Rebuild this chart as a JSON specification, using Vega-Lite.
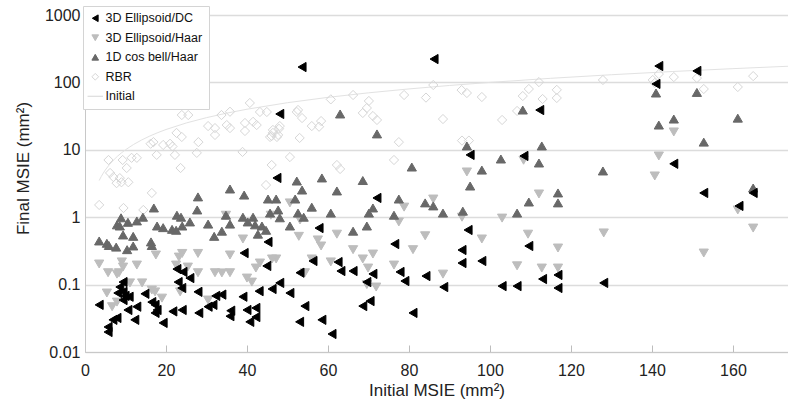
{
  "$schema": "https://vega.github.io/schema/vega-lite/v6.json",
  "width": 703,
  "height": 337,
  "autosize": {"type": "none"},
  "padding": {"left": 85, "top": 15, "right": 0, "bottom": 53},
  "config": {
    "view": {"stroke": null},
    "font": "Liberation Sans",
    "legend": {
      "orient": "none", "legendX": -2, "legendY": -9,
      "fillColor": "white", "strokeColor": "#d4d4d4", "padding": 6,
      "labelFontSize": 12.5, "labelFont": "Liberation Sans", "labelColor": "#111",
      "rowPadding": 6.5, "symbolStrokeWidth": 1, "symbolSize": 45,
      "labelLimit": 250, "labelOffset": 4, "cornerRadius": 0
    }
  },
  "datasets": {
    "initial": [
      {"x": 3.5, "y": 3.5}, {"x": 4, "y": 4}, {"x": 4.5, "y": 4.5}, {"x": 5, "y": 5}, {"x": 6, "y": 6},
      {"x": 7, "y": 7}, {"x": 8, "y": 8}, {"x": 9, "y": 9}, {"x": 10, "y": 10}, {"x": 12, "y": 12},
      {"x": 14, "y": 14}, {"x": 16, "y": 16}, {"x": 18, "y": 18}, {"x": 20, "y": 20}, {"x": 25, "y": 25},
      {"x": 30, "y": 30}, {"x": 35, "y": 35}, {"x": 40, "y": 40}, {"x": 50, "y": 50}, {"x": 60, "y": 60},
      {"x": 70, "y": 70}, {"x": 80, "y": 80}, {"x": 90, "y": 90}, {"x": 100, "y": 100}, {"x": 115, "y": 115},
      {"x": 130, "y": 130}, {"x": 145, "y": 145}, {"x": 160, "y": 160}, {"x": 173.6, "y": 173.6}
    ],
    "pts": [
      {"s":"RBR","x":30.4,"y":22.5},{"s":"RBR","x":32.1,"y":21},{"s":"RBR","x":35,"y":23.3},{"s":"RBR","x":35.8,"y":21},
      {"s":"RBR","x":39.5,"y":25},{"s":"RBR","x":39.5,"y":19},{"s":"RBR","x":42.4,"y":23.3},{"s":"RBR","x":32.1,"y":16.6},
      {"s":"RBR","x":46.1,"y":16},{"s":"RBR","x":47.7,"y":16.6},{"s":"RBR","x":22.6,"y":17.8},{"s":"RBR","x":23.9,"y":15.5},
      {"s":"RBR","x":16.9,"y":13},{"s":"RBR","x":16.2,"y":12.3},{"s":"RBR","x":19.3,"y":11.8},{"s":"RBR","x":21,"y":12.3},
      {"s":"RBR","x":21.6,"y":11.2},{"s":"RBR","x":28,"y":13},{"s":"RBR","x":17.7,"y":8.4},{"s":"RBR","x":22.2,"y":8.4},
      {"s":"RBR","x":27.6,"y":9},{"s":"RBR","x":38.9,"y":9.3},{"s":"RBR","x":5.8,"y":7.06},{"s":"RBR","x":9.3,"y":7.06},
      {"s":"RBR","x":11.5,"y":7.6},{"s":"RBR","x":12.8,"y":7.6},{"s":"RBR","x":10.3,"y":5.37},{"s":"RBR","x":6.2,"y":4.53},
      {"s":"RBR","x":7,"y":3.95},{"s":"RBR","x":8.6,"y":3.8},{"s":"RBR","x":7.8,"y":3.2},{"s":"RBR","x":9,"y":3.3},
      {"s":"RBR","x":10.7,"y":3.3},{"s":"RBR","x":23.6,"y":5.37},{"s":"RBR","x":46.1,"y":5.95},{"s":"RBR","x":16.5,"y":2.29},
      {"s":"RBR","x":44.7,"y":3.0},{"s":"RBR","x":3.5,"y":1.52},{"s":"RBR","x":9.5,"y":1.37},{"s":"RBR","x":14.4,"y":1.28},
      {"s":"RBR","x":50.6,"y":7.8},{"s":"RBR","x":52.6,"y":39},{"s":"RBR","x":53.6,"y":29.6},{"s":"RBR","x":53,"y":15},
      {"s":"RBR","x":86,"y":91.5},{"s":"RBR","x":93,"y":77},{"s":"RBR","x":94.3,"y":69.6},{"s":"RBR","x":98,"y":60.7},
      {"s":"RBR","x":84.2,"y":59.5},{"s":"RBR","x":78.8,"y":65},{"s":"RBR","x":66.2,"y":65},{"s":"RBR","x":70.1,"y":53},
      {"s":"RBR","x":60.7,"y":56},{"s":"RBR","x":69.6,"y":41.7},{"s":"RBR","x":68.6,"y":35.2},{"s":"RBR","x":71.1,"y":31.7},
      {"s":"RBR","x":72.1,"y":27.7},{"s":"RBR","x":52.3,"y":36.4},{"s":"RBR","x":44.9,"y":36.4},{"s":"RBR","x":43.2,"y":36.4},
      {"s":"RBR","x":56,"y":22.5},{"s":"RBR","x":58.3,"y":26.7},{"s":"RBR","x":57.8,"y":22},{"s":"RBR","x":46.4,"y":19.7},
      {"s":"RBR","x":47.9,"y":20.5},{"s":"RBR","x":45.7,"y":15.5},{"s":"RBR","x":47.4,"y":15.5},{"s":"RBR","x":88.4,"y":28.6},
      {"s":"RBR","x":77.5,"y":13},{"s":"RBR","x":93.1,"y":13.7},{"s":"RBR","x":94.8,"y":13.7},{"s":"RBR","x":103,"y":27.7},
      {"s":"RBR","x":76.3,"y":7.06},{"s":"RBR","x":62.2,"y":5.95},{"s":"RBR","x":63,"y":5.19},{"s":"RBR","x":108.1,"y":62.8},
      {"s":"RBR","x":109.6,"y":79.8},{"s":"RBR","x":112.1,"y":101},{"s":"RBR","x":113,"y":56.7},{"s":"RBR","x":116.5,"y":77.5},
      {"s":"RBR","x":116.5,"y":58.7},{"s":"RBR","x":106.7,"y":37.7},{"s":"RBR","x":127.9,"y":108.6},{"s":"RBR","x":140.2,"y":108.6},
      {"s":"RBR","x":141.7,"y":133},{"s":"RBR","x":145.4,"y":120},{"s":"RBR","x":151.1,"y":116},{"s":"RBR","x":152.8,"y":79.8},
      {"s":"RBR","x":161.2,"y":85.5},{"s":"RBR","x":165,"y":124},{"s":"RBR","x":140.7,"y":98},{"s":"RBR","x":23.9,"y":32.8},
      {"s":"RBR","x":25.5,"y":32.8},{"s":"RBR","x":33.7,"y":32.8},{"s":"RBR","x":35.8,"y":36.7},{"s":"RBR","x":40.7,"y":49.5},
      {"s":"RBR","x":41.5,"y":26},{"s":"RBR","x":48.1,"y":22.5},{"s":"RBR","x":46.4,"y":17.8},

      {"s":"EH","x":50.6,"y":1.63},{"s":"EH","x":53.1,"y":0.91},{"s":"EH","x":45.9,"y":1.07},{"s":"EH","x":34.8,"y":1.07},
      {"s":"EH","x":39,"y":0.475},{"s":"EH","x":52.8,"y":0.52},{"s":"EH","x":57.5,"y":0.46},{"s":"EH","x":47.2,"y":0.24},
      {"s":"EH","x":46.2,"y":0.24},{"s":"EH","x":43.2,"y":0.209},{"s":"EH","x":42.2,"y":0.176},{"s":"EH","x":40,"y":0.125},
      {"s":"EH","x":41.2,"y":0.109},{"s":"EH","x":35.8,"y":0.15},{"s":"EH","x":33.8,"y":0.149},{"s":"EH","x":32.1,"y":0.15},
      {"s":"EH","x":27.9,"y":0.15},{"s":"EH","x":25.4,"y":0.182},{"s":"EH","x":23.2,"y":0.256},{"s":"EH","x":24,"y":0.29},
      {"s":"EH","x":22.5,"y":0.195},{"s":"EH","x":27.9,"y":0.29},{"s":"EH","x":35.8,"y":0.275},{"s":"EH","x":17.5,"y":0.275},
      {"s":"EH","x":12.8,"y":0.195},{"s":"EH","x":9.1,"y":0.217},{"s":"EH","x":9.4,"y":0.182},{"s":"EH","x":8.4,"y":0.15},
      {"s":"EH","x":3.5,"y":0.202},{"s":"EH","x":5.7,"y":0.15},{"s":"EH","x":7.9,"y":0.143},{"s":"EH","x":14.1,"y":0.106},
      {"s":"EH","x":11.1,"y":0.106},{"s":"EH","x":16.5,"y":0.083},{"s":"EH","x":17.3,"y":0.078},{"s":"EH","x":19,"y":0.063},
      {"s":"EH","x":5.4,"y":0.075},{"s":"EH","x":6.7,"y":0.047},{"s":"EH","x":7.9,"y":0.055},{"s":"EH","x":23.5,"y":0.078},
      {"s":"EH","x":30.4,"y":0.059},{"s":"EH","x":86,"y":1.86},{"s":"EH","x":78.8,"y":1.41},{"s":"EH","x":93.1,"y":1.0},
      {"s":"EH","x":77.5,"y":0.85},{"s":"EH","x":62.2,"y":0.56},{"s":"EH","x":58.3,"y":0.374},{"s":"EH","x":84,"y":0.53},
      {"s":"EH","x":81,"y":0.33},{"s":"EH","x":66.2,"y":0.33},{"s":"EH","x":71.1,"y":0.284},{"s":"EH","x":68.6,"y":0.24},
      {"s":"EH","x":76.3,"y":0.195},{"s":"EH","x":69.9,"y":0.176},{"s":"EH","x":60.7,"y":0.217},{"s":"EH","x":56,"y":0.24},
      {"s":"EH","x":54.3,"y":0.15},{"s":"EH","x":69.6,"y":0.1},{"s":"EH","x":71.9,"y":0.092},{"s":"EH","x":88.4,"y":0.143},
      {"s":"EH","x":98,"y":0.475},{"s":"EH","x":103,"y":0.97},{"s":"EH","x":109.4,"y":0.56},{"s":"EH","x":106.7,"y":0.19},
      {"s":"EH","x":112.8,"y":0.176},{"s":"EH","x":112.1,"y":2.21},{"s":"EH","x":108.3,"y":7.0},{"s":"EH","x":94.3,"y":4.69},
      {"s":"EH","x":141.7,"y":8.1},{"s":"EH","x":140.7,"y":4.09},{"s":"EH","x":145.4,"y":18.4},{"s":"EH","x":128.1,"y":0.584},
      {"s":"EH","x":116.8,"y":0.349},{"s":"EH","x":116.8,"y":0.176},{"s":"EH","x":152.8,"y":0.294},{"s":"EH","x":165,"y":0.69},
      {"s":"EH","x":161.2,"y":1.28},

      {"s":"CB","x":35.8,"y":2.62},{"s":"CB","x":39.3,"y":2.13},{"s":"CB","x":27.9,"y":2.0},{"s":"CB","x":52.3,"y":3.44},
      {"s":"CB","x":45.2,"y":1.86},{"s":"CB","x":47.2,"y":1.86},{"s":"CB","x":53.6,"y":2.53},{"s":"CB","x":51.9,"y":1.86},
      {"s":"CB","x":17,"y":1.37},{"s":"CB","x":27.7,"y":1.28},{"s":"CB","x":14.3,"y":1.0},{"s":"CB","x":8.9,"y":0.98},
      {"s":"CB","x":12.8,"y":0.88},{"s":"CB","x":10.6,"y":0.84},{"s":"CB","x":7.9,"y":0.77},{"s":"CB","x":8.6,"y":0.74},
      {"s":"CB","x":9.4,"y":0.545},{"s":"CB","x":11.9,"y":0.52},{"s":"CB","x":11.9,"y":0.374},{"s":"CB","x":3.5,"y":0.444},
      {"s":"CB","x":5.4,"y":0.41},{"s":"CB","x":5.9,"y":0.38},{"s":"CB","x":7.7,"y":0.36},{"s":"CB","x":10.4,"y":0.33},
      {"s":"CB","x":16.3,"y":0.43},{"s":"CB","x":16.5,"y":0.38},{"s":"CB","x":22.7,"y":1.07},{"s":"CB","x":23.7,"y":1.0},
      {"s":"CB","x":17.8,"y":0.74},{"s":"CB","x":19.3,"y":0.7},{"s":"CB","x":21.5,"y":0.66},{"s":"CB","x":22.5,"y":0.64},
      {"s":"CB","x":24,"y":0.74},{"s":"CB","x":25.9,"y":0.85},{"s":"CB","x":30.4,"y":0.79},{"s":"CB","x":31.9,"y":0.52},
      {"s":"CB","x":33.8,"y":0.62},{"s":"CB","x":34.8,"y":1.07},{"s":"CB","x":35.8,"y":0.79},{"s":"CB","x":39,"y":1.0},
      {"s":"CB","x":41.5,"y":1.0},{"s":"CB","x":40.2,"y":0.85},{"s":"CB","x":42,"y":0.77},{"s":"CB","x":43.7,"y":0.74},
      {"s":"CB","x":42.7,"y":0.56},{"s":"CB","x":44.7,"y":0.64},{"s":"CB","x":45.7,"y":1.15},{"s":"CB","x":47.7,"y":1.28},
      {"s":"CB","x":48.1,"y":0.98},{"s":"CB","x":50.6,"y":0.74},{"s":"CB","x":52.6,"y":1.15},{"s":"CB","x":54,"y":1.0},
      {"s":"CB","x":56,"y":1.41},{"s":"CB","x":58.5,"y":3.82},{"s":"CB","x":63,"y":34},{"s":"CB","x":72.1,"y":17.2},
      {"s":"CB","x":80.7,"y":5.55},{"s":"CB","x":68.6,"y":3.5},{"s":"CB","x":62.2,"y":2.45},{"s":"CB","x":60.7,"y":1.15},
      {"s":"CB","x":70.1,"y":1.15},{"s":"CB","x":71.1,"y":1.37},{"s":"CB","x":77.5,"y":1.86},{"s":"CB","x":76.3,"y":1.07},
      {"s":"CB","x":84,"y":1.63},{"s":"CB","x":86,"y":1.47},{"s":"CB","x":88.4,"y":1.15},{"s":"CB","x":93.3,"y":1.23},
      {"s":"CB","x":69.6,"y":0.74},{"s":"CB","x":66.2,"y":0.62},{"s":"CB","x":94.3,"y":11.4},{"s":"CB","x":95.1,"y":2.9},
      {"s":"CB","x":98,"y":5.0},{"s":"CB","x":102.7,"y":7.3},{"s":"CB","x":108.1,"y":38.9},{"s":"CB","x":112.8,"y":11.4},
      {"s":"CB","x":112.1,"y":6.37},{"s":"CB","x":109.6,"y":1.68},{"s":"CB","x":106.7,"y":1.15},{"s":"CB","x":141,"y":69.6},
      {"s":"CB","x":151.1,"y":71},{"s":"CB","x":141.7,"y":23.3},{"s":"CB","x":145.4,"y":28.6},{"s":"CB","x":161.2,"y":29.5},
      {"s":"CB","x":152.8,"y":13},{"s":"CB","x":127.9,"y":4.85},{"s":"CB","x":116.8,"y":2.29},{"s":"CB","x":116.8,"y":1.63},
      {"s":"CB","x":165,"y":2.71},

      {"s":"DC","x":53.6,"y":169},{"s":"DC","x":86.2,"y":222},{"s":"DC","x":141.7,"y":175},{"s":"DC","x":151.1,"y":148},
      {"s":"DC","x":141,"y":95},{"s":"DC","x":112.3,"y":38.9},{"s":"DC","x":145.4,"y":6.2},{"s":"DC","x":152.8,"y":2.29},
      {"s":"DC","x":165,"y":2.29},{"s":"DC","x":161.5,"y":1.47},{"s":"DC","x":109.6,"y":0.374},{"s":"DC","x":113,"y":0.121},
      {"s":"DC","x":116.8,"y":0.139},{"s":"DC","x":116.8,"y":0.089},{"s":"DC","x":128.1,"y":0.106},{"s":"DC","x":108.4,"y":8.1},
      {"s":"DC","x":95.1,"y":8.4},{"s":"DC","x":72.1,"y":1.93},{"s":"DC","x":57.8,"y":0.69},{"s":"DC","x":94.6,"y":0.646},
      {"s":"DC","x":76.5,"y":0.4},{"s":"DC","x":93.1,"y":0.326},{"s":"DC","x":93.1,"y":0.209},{"s":"DC","x":98,"y":0.224},
      {"s":"DC","x":56.3,"y":0.224},{"s":"DC","x":62.5,"y":0.216},{"s":"DC","x":63.2,"y":0.159},{"s":"DC","x":66.2,"y":0.159},
      {"s":"DC","x":71.1,"y":0.144},{"s":"DC","x":53.1,"y":0.15},{"s":"DC","x":77.8,"y":0.154},{"s":"DC","x":84.2,"y":0.134},
      {"s":"DC","x":79,"y":0.113},{"s":"DC","x":69.6,"y":0.109},{"s":"DC","x":88.6,"y":0.092},{"s":"DC","x":103,"y":0.095},
      {"s":"DC","x":106.7,"y":0.095},{"s":"DC","x":70.4,"y":0.057},{"s":"DC","x":68.6,"y":0.048},{"s":"DC","x":54.3,"y":0.048},
      {"s":"DC","x":81,"y":0.038},{"s":"DC","x":58.5,"y":0.03},{"s":"DC","x":53,"y":0.028},{"s":"DC","x":61,"y":0.0185},
      {"s":"DC","x":48.1,"y":34},{"s":"DC","x":47.4,"y":3.82},{"s":"DC","x":45.2,"y":0.429},{"s":"DC","x":39.3,"y":0.294},
      {"s":"DC","x":44.9,"y":0.189},{"s":"DC","x":22.7,"y":0.17},{"s":"DC","x":24.2,"y":0.154},{"s":"DC","x":25.9,"y":0.125},
      {"s":"DC","x":23,"y":0.109},{"s":"DC","x":23.9,"y":0.089},{"s":"DC","x":9.4,"y":0.109},{"s":"DC","x":9.4,"y":0.078},
      {"s":"DC","x":8.1,"y":0.075},{"s":"DC","x":9.9,"y":0.068},{"s":"DC","x":10.9,"y":0.066},{"s":"DC","x":9.4,"y":0.059},
      {"s":"DC","x":3.5,"y":0.05},{"s":"DC","x":14.8,"y":0.073},{"s":"DC","x":27.9,"y":0.078},{"s":"DC","x":43,"y":0.08},
      {"s":"DC","x":46.2,"y":0.086},{"s":"DC","x":48.1,"y":0.106},{"s":"DC","x":33.8,"y":0.071},{"s":"DC","x":32.3,"y":0.068},
      {"s":"DC","x":30.4,"y":0.047},{"s":"DC","x":31.6,"y":0.05},{"s":"DC","x":39,"y":0.066},{"s":"DC","x":36,"y":0.041},
      {"s":"DC","x":35.8,"y":0.034},{"s":"DC","x":40,"y":0.042},{"s":"DC","x":42.2,"y":0.045},{"s":"DC","x":42.2,"y":0.033},
      {"s":"DC","x":40.7,"y":0.028},{"s":"DC","x":28.1,"y":0.038},{"s":"DC","x":24,"y":0.042},{"s":"DC","x":21.7,"y":0.04},
      {"s":"DC","x":17.3,"y":0.05},{"s":"DC","x":17.8,"y":0.042},{"s":"DC","x":16.5,"y":0.055},{"s":"DC","x":17.3,"y":0.038},
      {"s":"DC","x":12.8,"y":0.047},{"s":"DC","x":12.3,"y":0.03},{"s":"DC","x":19.3,"y":0.027},{"s":"DC","x":10.6,"y":0.042},
      {"s":"DC","x":7.9,"y":0.032},{"s":"DC","x":6.9,"y":0.03},{"s":"DC","x":5.7,"y":0.0235},{"s":"DC","x":5.7,"y":0.0198},
      {"s":"DC","x":8.6,"y":0.092},{"s":"DC","x":50.6,"y":0.075}
    ]
  },
  "encoding": {
    "x": {
      "field": "x", "type": "quantitative",
      "scale": {"domain": [0, 173.6], "nice": false, "zero": false},
      "axis": {
        "values": [0, 20, 40, 60, 80, 100, 120, 140, 160],
        "grid": false, "tickSize": -7, "tickColor": "#bdbdbd", "tickWidth": 1,
        "domainColor": "#c8c8c8", "labelFontSize": 16, "labelColor": "#222",
        "labelPadding": 17, "labelFlush": false, "labelOverlap": false,
        "title": "Initial MSIE (mm²)", "titleFontSize": 17, "titleFontWeight": "normal",
        "titleColor": "#222", "titlePadding": 4
      }
    },
    "y": {
      "field": "y", "type": "quantitative",
      "scale": {"type": "log", "domain": [0.01, 1000], "nice": false},
      "axis": {
        "values": [0.01, 0.1, 1, 10, 100, 1000], "format": "~g",
        "grid": true, "gridColor": "#dcdcdc", "gridWidth": 1.5,
        "ticks": false, "labelPadding": 5, "domainColor": "#c8c8c8",
        "labelFontSize": 16, "labelColor": "#222", "labelFlush": false, "labelOverlap": false,
        "title": "Final MSIE (mm²)", "titleFontSize": 17, "titleFontWeight": "normal",
        "titleColor": "#222", "titlePadding": 12, "titleY": 153
      }
    }
  },
  "layer": [
    {
      "data": {"name": "initial"},
      "mark": {"type": "line", "stroke": "#e2e2e2", "strokeWidth": 1},
      "encoding": {}
    },
    {
      "data": {"name": "pts"},
      "mark": {"type": "point", "filled": true, "size": 85, "strokeWidth": 1, "opacity": 1},
      "encoding": {
        "shape": {
          "field": "s", "type": "nominal",
          "scale": {"domain": ["DC", "EH", "CB", "RBR", "Init"], "range": ["triangle-left", "triangle-down", "triangle-up", "diamond", "M-2.3,0L2.3,0"]},
          "legend": {"title": null, "labelExpr": "datum.label == 'DC' ? '3D Ellipsoid/DC' : datum.label == 'EH' ? '3D Ellipsoid/Haar' : datum.label == 'CB' ? '1D cos bell/Haar' : datum.label == 'RBR' ? 'RBR' : 'Initial'"}
        },
        "fill": {
          "field": "s", "type": "nominal",
          "scale": {"domain": ["DC", "EH", "CB", "RBR", "Init"], "range": ["#000000", "#bdbdbd", "#686868", "transparent", "transparent"]},
          "legend": {"title": null, "labelExpr": "datum.label == 'DC' ? '3D Ellipsoid/DC' : datum.label == 'EH' ? '3D Ellipsoid/Haar' : datum.label == 'CB' ? '1D cos bell/Haar' : datum.label == 'RBR' ? 'RBR' : 'Initial'"}
        },
        "stroke": {
          "field": "s", "type": "nominal",
          "scale": {"domain": ["DC", "EH", "CB", "RBR", "Init"], "range": ["#000000", "#bdbdbd", "#686868", "#d6d6d6", "#d6d6d6"]},
          "legend": {"title": null, "labelExpr": "datum.label == 'DC' ? '3D Ellipsoid/DC' : datum.label == 'EH' ? '3D Ellipsoid/Haar' : datum.label == 'CB' ? '1D cos bell/Haar' : datum.label == 'RBR' ? 'RBR' : 'Initial'"}
        }
      }
    }
  ]
}
